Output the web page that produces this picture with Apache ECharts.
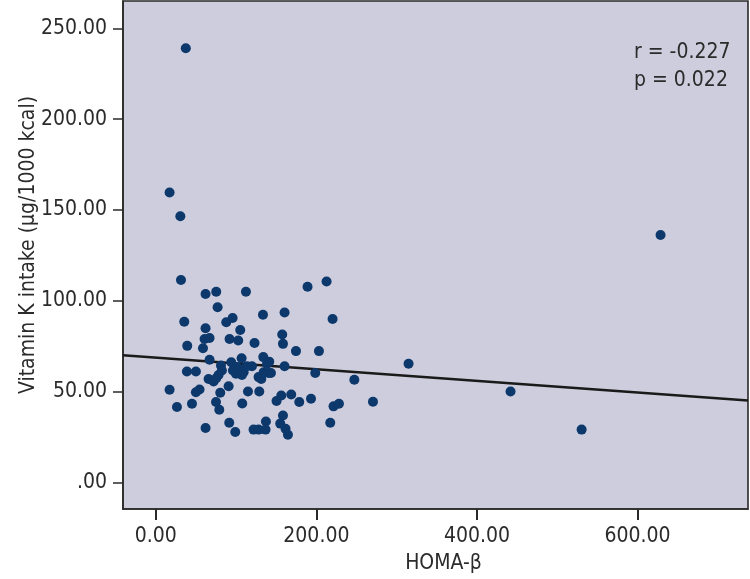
<!DOCTYPE html>
<html>
<head>
<meta charset="utf-8">
<script src="https://cdn.jsdelivr.net/npm/echarts@6/dist/echarts.min.js"></script>
<style>
html,body{margin:0;padding:0;background:#fff;}
#chart{width:750px;height:579px;}
</style>
</head>
<body>
<div id="chart"></div>
<script>
// HOMA-β values
var homaB = [31.4,62,75.3,112.3,189,212.7,77,35.5,87.8,95.7,133.5,160.4,220.2,62,105.2,60.8,67,91.9,102.7,123,157.5,158.4,39.2,58.8,174.6,203.2,67,106.9,133.9,141.3,94,160.4,38.8,50,81.2,96.1,99.9,109.4,113.5,119.8,128,134.3,140.5,78.2,65.8,72,131.4,198.6,17.2,90.7,54.5,50,80.3,114.8,128.9,156.3,168.7,150.4,178.7,193.3,26.4,45.1,75,79.1,107.7,221.4,228.1,158.4,91.5,137.2,155,217.3,62,99,121.8,128,136.7,161.6,164.6,75.3,82.4,104.4,107.3,101.1,138.5,143.4,37.4,17.2,30.6,628.6,314.8,441.8,530.3,270.5,247.3];
// Vitamin K intake (µg/1000 kcal)
var vitK = [111.4,103.7,105,105,107.7,110.6,96.4,88.5,88.2,90.5,92.3,93.6,90,84.9,83.9,79,79.5,79,78.1,76.8,81.4,76.3,75.2,73.9,72.3,72.3,67.5,68.4,69,66.5,66.2,64,61.1,61.1,64.4,61.6,59.8,60.7,64,64,58,60.7,60.3,59.2,57,55.6,57,60.3,51,53,51.2,49.7,49.4,50.1,50.1,47.9,48.4,44.8,44.3,46.1,41.5,43.3,44.3,40,43.5,41.9,43.3,36.9,32.9,33.6,32.4,32.9,30,27.8,29.1,29.1,29.1,29.6,26.3,57.4,61.6,62.2,59.2,63.5,65.3,60.3,239,159.6,146.5,136.2,65.3,50.1,29.1,44.4,56.5];
// fit line endpoints (x, y)
var fitX = [-40.8, 737.5];
var fitY = [70.06, 45.15];
// tick labels
var xTicks = [0, 200, 400, 600];
var xTickLabels = ['0.00', '200.00', '400.00', '600.00'];
var yTicks = [0, 50, 100, 150, 200, 250];
var yTickLabels = ['.00', '50.00', '100.00', '150.00', '200.00', '250.00'];
var statLines = ['r = -0.227', 'p = 0.022'];

var FONT = "'Liberation Sans Narrow','DejaVu Sans Condensed','Arial Narrow',sans-serif";
var TXT = '#2b2b2b';

var pts = homaB.map(function(v,i){return [v, vitK[i]];});
var fit = fitX.map(function(v,i){return [v, fitY[i]];});

var chart = echarts.init(document.getElementById('chart'), null, {renderer:'canvas'});
chart.setOption({
  animation:false,
  backgroundColor:'#ffffff',
  grid:{left:123, right:2, top:1, bottom:68, show:true, backgroundColor:'#cdcddd', borderColor:'#2a2a2a', borderWidth:1.6, containLabel:false},
  xAxis:{
    type:'value', min:-40.8, max:737.5, position:'bottom',
    name:'HOMA-β', nameLocation:'middle', nameGap:44, nameMoveOverlap:false,
    nameTextStyle:{fontFamily:FONT, fontSize:21, color:TXT, padding:[0,0,0,16]},
    axisLine:{show:true, onZero:false, lineStyle:{color:'#2a2a2a', width:1.6}},
    splitLine:{show:false},
    axisTick:{show:true, inside:false, customValues:xTicks, length:11, lineStyle:{color:'#2a2a2a', width:2}},
    axisLabel:{customValues:xTicks, margin:17, fontFamily:FONT, fontSize:21, color:TXT,
      formatter:function(v){var i=xTicks.indexOf(v);return i>=0?xTickLabels[i]:'';}}
  },
  yAxis:{
    type:'value', min:-14.6, max:265, position:'left',
    name:'Vitamin K intake (µg/1000 kcal)', nameLocation:'middle', nameGap:84, nameMoveOverlap:false,
    nameTextStyle:{fontFamily:FONT, fontSize:21, color:TXT, padding:[0,0,0,20]},
    axisLine:{show:true, onZero:false, lineStyle:{color:'#2a2a2a', width:1.6}},
    splitLine:{show:false},
    axisTick:{show:true, inside:false, customValues:yTicks, length:10, lineStyle:{color:'#2a2a2a', width:1.5}},
    axisLabel:{customValues:yTicks, margin:16, fontFamily:FONT, fontSize:21, color:TXT,
      formatter:function(v){var i=yTicks.indexOf(v);return i>=0?yTickLabels[i]:'';}}
  },
  series:[
    {type:'line', data:fit, showSymbol:false, symbol:'none', lineStyle:{color:'#1a1a1a', width:2.5}, z:2, silent:true},
    {type:'scatter', data:pts, symbol:'circle', symbolSize:10, itemStyle:{color:'#0c386c', opacity:1}, z:3}
  ],
  graphic:[
    {type:'text', left:634, top:42, style:{text:statLines[0], font:'21px '+FONT, fill:TXT}},
    {type:'text', left:634, top:70, style:{text:statLines[1], font:'21px '+FONT, fill:TXT}}
  ]
});
</script>
</body>
</html>
